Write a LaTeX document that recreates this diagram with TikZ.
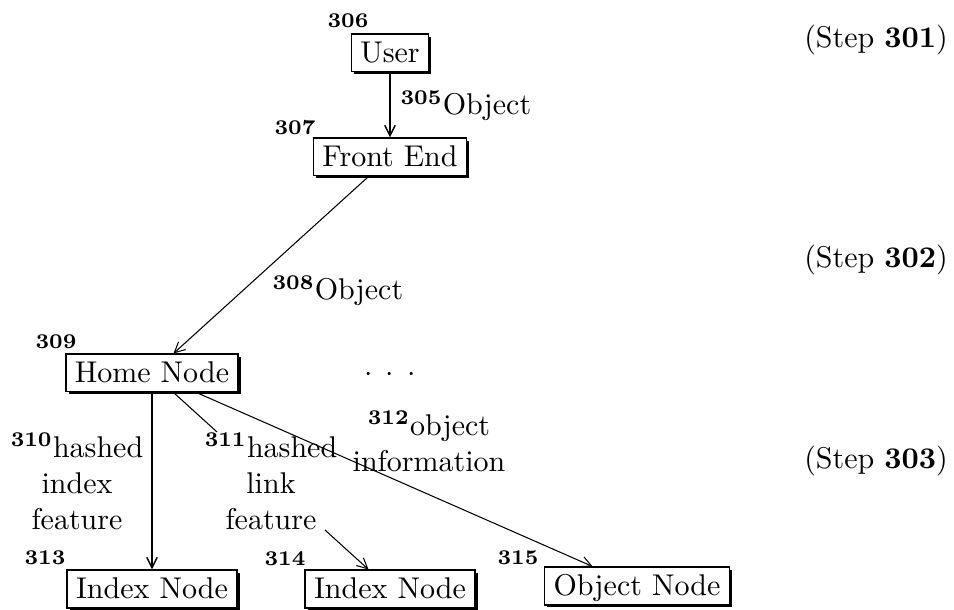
\documentclass[tikz,border=0pt]{standalone}
\usetikzlibrary{arrows.meta,shadows}

\tikzset{
  nodebox/.style={draw, fill=white, line width=0.5pt, inner xsep=3pt, inner ysep=2.5pt,
    text height=6.9pt, text depth=0.6pt,
    drop shadow={shadow xshift=0.9pt, shadow yshift=-0.9pt, opacity=1, fill=black}},
  refnum/.style={font=\scriptsize\bfseries, inner sep=0pt},
  lbl/.style={align=center, inner sep=0pt},
  link/.style={line width=0.35pt, -{Straight Barb[length=3.5pt,width=3.5pt]}},
  vlink/.style={link, line width=0.5pt},
}

\begin{document}
\begin{tikzpicture}[x=0.3333pt, y=-0.3333pt]
\useasboundingbox (0,0) rectangle (954,610);

% Boxes
\node[nodebox] (user) at (390,53) {User};
\node[nodebox] (front) at (390,157) {Front End};
\node[nodebox] (home) at (152,373) {Home Node};
\node[nodebox] (idx1) at (152,589) {Index Node};
\node[nodebox] (idx2) at (390,589) {Index Node};
\node[nodebox] (objnode) at (637,586) {Object Node};

% Reference numbers
\node[refnum] (n306) at (348,21) {306};
\node[refnum] (n307) at (295,128) {307};
\node[refnum] (n309) at (56,342) {309};
\node[refnum] (n313) at (45,558) {313};
\node[refnum] (n314) at (285,559) {314};
\node[refnum] (n315) at (518,558) {315};

% Labels
\node[lbl, anchor=base west] (l305) at (400,115) {$^{\mathbf{305}}$Object};
\node[lbl, anchor=base west] (l308) at (272,300) {$^{\mathbf{308}}$Object};
\node[lbl] (l310) at (77,481) {$^{\mathbf{310}}$hashed\\index\\feature};
\node[lbl] (l311) at (271,481) {$^{\mathbf{311}}$hashed\\link\\feature};
\node[lbl] (l312) at (429,441) {$^{\mathbf{312}}$object\\information};
\node[anchor=base, inner sep=0pt] (dots) at (390,382) {$\cdot$\hspace{4.5pt}$\cdot$\hspace{4.5pt}$\cdot$};

% Steps
\node[anchor=base] (s301) at (876,48) {(Step \textbf{301})};
\node[anchor=base] (s302) at (876,268) {(Step \textbf{302})};
\node[anchor=base] (s303) at (876,469) {(Step \textbf{303})};

% Connectors
\draw[vlink] (user) -- (front);
\draw[link] (front) -- (home);
\draw[vlink] (home) -- (idx1);
\draw[line width=0.35pt] (home) -- (l311);
\draw[link] (l311) -- (idx2);
\draw[link] (home) -- (objnode);
\end{tikzpicture}
\end{document}
